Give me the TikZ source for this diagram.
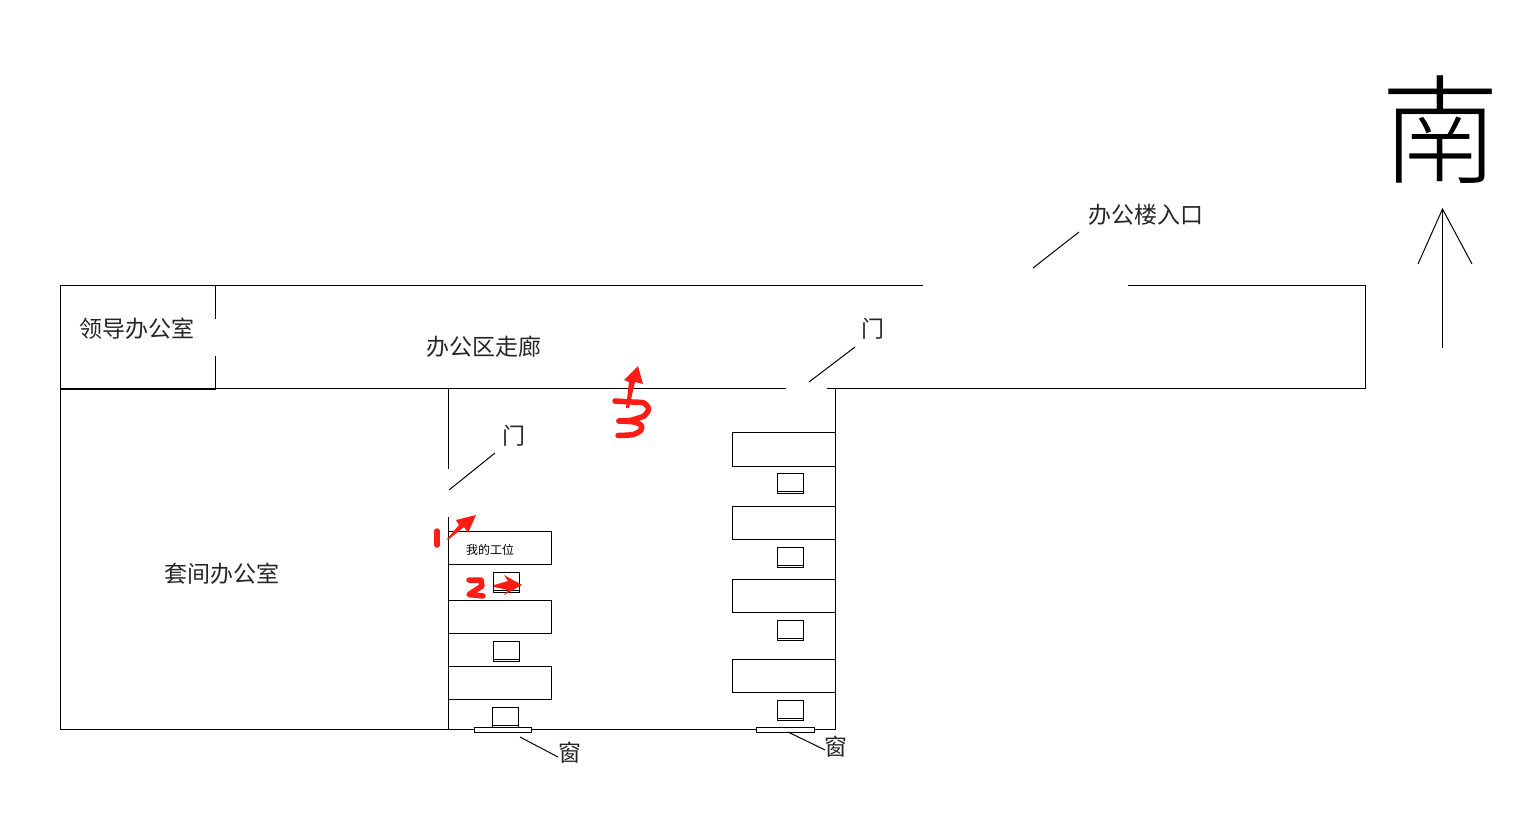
\documentclass[tikz,border=0pt]{standalone}
\usepackage{fontspec}
\newfontfamily\cjk{Noto Sans CJK SC}
\newfontfamily\cjklight{Noto Sans CJK SC Light}
\definecolor{redmark}{RGB}{255,28,20}
\tikzset{
  wall/.style={draw=black,line width=1pt},
  furn/.style={draw=black,line width=1pt,fill=white},
  lab/.style={inner sep=0pt,font=\cjk\fontsize{23}{23}\selectfont,text=black!85},
  smalllab/.style={inner sep=0pt,font=\cjk\fontsize{12}{12}\selectfont},
  redpoly/.style={fill=redmark,draw=none},
  redpen/.style={draw=redmark,line width=5.5pt,line cap=round,line join=round},
}
\newcommand{\desk}[4]{\draw[furn] (#1,#2) rectangle (#3,#4);}
\newcommand{\monitor}[3]{%
  \draw[furn] (#1,#2) rectangle (#1+26,#2+20);
  \draw[line width=1pt] (#1,#2+17.5) -- (#1+26,#2+17.5);}
\begin{document}
\begin{tikzpicture}[x=1pt,y=-1pt]
\useasboundingbox (0,0) rectangle (1519,829);
% walls
\draw[wall] (922.5,285.5) -- (60.5,285.5) -- (60.5,729.5) -- (835.5,729.5) -- (835.5,388.5);
\draw[wall] (1128,285.5) -- (1365.5,285.5) -- (1365.5,388.5) -- (827,388.5);
\draw[wall] (786,388.5) -- (60.5,388.5);
\draw[line width=2pt] (60.5,388.5) -- (215.5,388.5);
\draw[wall] (215.5,285.5) -- (215.5,319);
\draw[wall] (215.5,356) -- (215.5,388.5);
\draw[wall] (448.5,388.5) -- (448.5,469);
\draw[wall] (448.5,517) -- (448.5,729.5);
% desks
\desk{448.5}{531.5}{551.5}{564.5}
\desk{448.5}{600.5}{551.5}{633.5}
\desk{448.5}{666.5}{551.5}{699.5}
\desk{732.5}{432.5}{835.5}{466.5}
\desk{732.5}{506.5}{835.5}{539.5}
\desk{732.5}{579.5}{835.5}{612.5}
\desk{732.5}{659.5}{835.5}{692.5}
% monitors
\monitor{493.5}{572.5}{}
\monitor{493.5}{641.5}{}
\monitor{492.5}{707.5}{}
\monitor{777.5}{473.5}{}
\monitor{777.5}{547.5}{}
\monitor{777.5}{620.5}{}
\monitor{777.5}{700.5}{}
% windows
\draw[furn] (474.5,727.5) rectangle (531.5,732);
\draw[furn] (756.5,727.5) rectangle (814.5,732);
% labels
\node[lab] (boss) at (136.5,329) {领导办公室};
\node[lab] (corridor) at (483.5,347) {办公区走廊};
\node[lab] (suite) at (222,574) {套间办公室};
\node[lab] (entry) at (1145.5,215) {办公楼入口};
\node[lab] (door1) at (873,329) {门};
\node[lab] (door2) at (514,436) {门};
\node[lab] (win1) at (570,753) {窗};
\node[lab] (win2) at (836,747) {窗};
\node[smalllab] (mine) at (490,549.5) {我的工位};
\node[inner sep=0pt,font=\cjklight\fontsize{118}{118}\selectfont] (south) at (1440,130) {南};
% leaders
\coordinate (e1) at (1033,268); \coordinate (e2) at (1079,232);
\coordinate (d1a) at (809,382); \coordinate (d1b) at (855,347);
\coordinate (d2a) at (449,490); \coordinate (d2b) at (495,453);
\coordinate (w1a) at (520,737); \coordinate (w1b) at (558,757);
\coordinate (w2a) at (788,732); \coordinate (w2b) at (825,750);
\draw[wall] (e1) -- (e2);
\draw[wall] (d1a) -- (d1b);
\draw[wall] (d2a) -- (d2b);
\draw[wall] (w1a) -- (w1b);
\draw[wall] (w2a) -- (w2b);
% north arrow
\coordinate (ntip) at (1442.5,209);
\draw[wall] (1442.5,348) -- (ntip);
\draw[wall] (1418,264) -- (ntip) -- (1472,264);
% red marks
\fill[redpoly] (447,539) -- (459,525) -- (456,520) -- (476,515) -- (468,533) -- (464,527) -- (448,540) -- cycle;
\draw[redpen] (437,531) -- (437,545);
\fill[redpoly] (494,585) -- (508,581) -- (504,575) -- (522,585) -- (504,595) -- (508,590) -- (494,587) -- cycle;
\draw[redpen] (469,580) -- (481,580) -- (482,586) -- (469,594.5) -- (483,596);
\fill[redpoly] (626,408) -- (629,382) -- (624,380) -- (638,366) -- (643,384) -- (635,382) -- (629,408) -- cycle;
\draw[redpen,smooth] plot coordinates {(615,401) (632,402) (644,403) (648.5,409) (644,416) (630,420.5)};
\draw[redpen] (630,420.5) -- (619,421);
\draw[redpen,smooth] plot coordinates {(619,421) (634,422) (641,425) (641,430) (633,434.5) (618,435.5)};
\end{tikzpicture}
\end{document}
